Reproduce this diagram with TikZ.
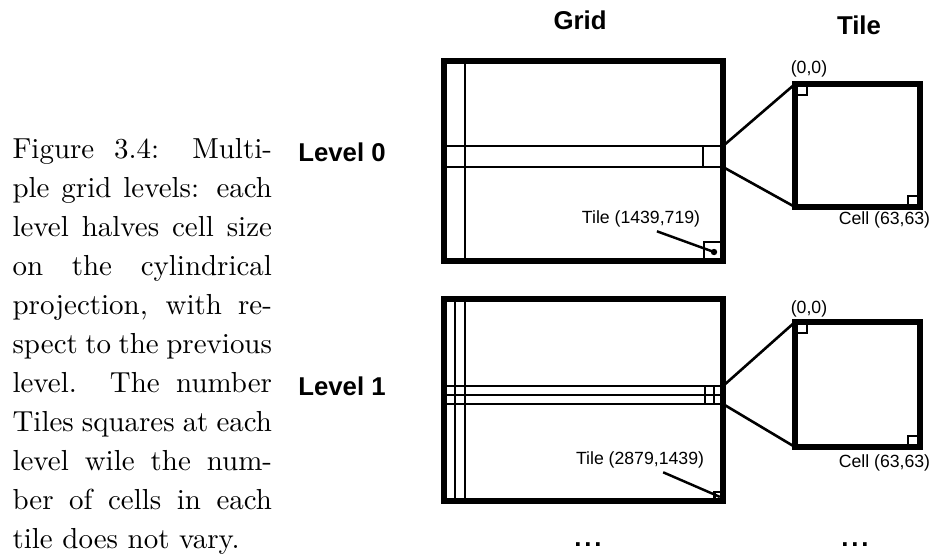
\documentclass[tikz,border=0pt]{standalone}
\usepackage{fontspec}
\newfontfamily\labelfont{Liberation Sans}
\usetikzlibrary{positioning}

\tikzset{
  heavy/.style={line width=2pt},
  gridline/.style={line width=0.85pt},
  zoomline/.style={line width=0.9pt},
  head/.style={font=\labelfont\bfseries\fontsize{8.9}{10}\selectfont, inner sep=0pt},
  small/.style={font=\labelfont\fontsize{6.1}{7}\selectfont, inner sep=0pt},
  captext/.style={anchor=north west, inner sep=0pt, text width=89.6pt,
    align=justify, font=\fontsize{10}{13.45}\selectfont},
}

\begin{document}
\begin{tikzpicture}[x=0.3454pt, y=-0.3454pt]

    \useasboundingbox (0,0) rectangle (933,557);

    % Caption
    \node[captext] (cap) at (12,138) {Figure 3.4: Multi-\linebreak
      ple grid levels: each\linebreak level halves cell size\linebreak
      on the cylindrical\linebreak projection, with re-\linebreak
      spect to the previous\linebreak level. The number\linebreak
      Tiles squares at each\linebreak level wile the num-\linebreak
      ber of cells in each\linebreak tile does not vary.};

    % Column heads
    \node[head] (gridhead) at (580,20) {Grid};
    \node[head] (tilehead) at (859,25) {Tile};

    % Level 0: grid
    \node[head] (lev0) at (342,152) {Level 0};
    \draw[heavy] (444,61) rectangle (723,261);
    \draw[gridline] (465,61) -- (465,261);
    \draw[gridline] (444,146) -- (723,146) coordinate (s0top);
    \draw[gridline] (444,167) -- (723,167) coordinate (s0bot);
    \draw[gridline] (703,146) -- (703,167);
    \draw[gridline] (704,242) rectangle (723,261);
    \coordinate (dot0) at (714,252);
    \fill (dot0) circle[radius=3.2];
    \node[small] (lab0) at (641,219) {Tile (1439,719)};
    \draw[gridline] ([xshift=5.5pt,yshift=-1.2pt]lab0.south) -- (dot0);

    % Level 0: tile
    \coordinate (t0nw) at (795,84);
    \coordinate (t0sw) at (795,207);
    \draw[heavy] (t0nw) rectangle (920,207);
    \draw[gridline] (t0nw) rectangle (807,95);
    \draw[gridline] (908,196) rectangle (920,207);
    \node[small] (org0) at (809,68.5) {(0,0)};
    \node[small] (cell0) at (884.5,220) {Cell (63,63)};
    \draw[zoomline] (s0top) -- (t0nw);
    \draw[zoomline] (s0bot) -- (t0sw);

    % Level 1: grid
    \node[head] (lev1) at (342,386) {Level 1};
    \draw[heavy] (444,299) rectangle (723,501);
    \draw[gridline] (455,299) -- (455,501);
    \draw[gridline] (465,299) -- (465,501);
    \draw[gridline] (444,386) -- (723,386) coordinate (s1top);
    \draw[gridline] (444,395) -- (723,395);
    \draw[gridline] (444,404) -- (723,404) coordinate (s1bot);
    \draw[gridline] (705,386) -- (705,404);
    \draw[gridline] (714,386) -- (714,404);
    \draw[gridline] (714.5,492) rectangle (723,501);
    \coordinate (dot1) at (719,496.5);
    \fill (dot1) circle[radius=1.5];
    \node[small] (lab1) at (640,460) {Tile (2879,1439)};
    \draw[gridline] ([xshift=8pt,yshift=-1.2pt]lab1.south) -- (dot1);

    % Level 1: tile
    \coordinate (t1nw) at (795,322);
    \coordinate (t1sw) at (795,447);
    \draw[heavy] (t1nw) rectangle (920,447);
    \draw[gridline] (t1nw) rectangle (807,333);
    \draw[gridline] (908,436) rectangle (920,447);
    \node[small] (org1) at (809,308.5) {(0,0)};
    \node[small] (cell1) at (884.5,463) {Cell (63,63)};
    \draw[zoomline] (s1top) -- (t1nw);
    \draw[zoomline] (s1bot) -- (t1sw);

    % More levels
    \node[head, anchor=base] (moregrid) at (588,546) {.\kern1pt.\kern1pt.};
    \node[head, anchor=base] (moretile) at (855,546) {.\kern1pt.\kern1pt.};

\end{tikzpicture}
\end{document}
